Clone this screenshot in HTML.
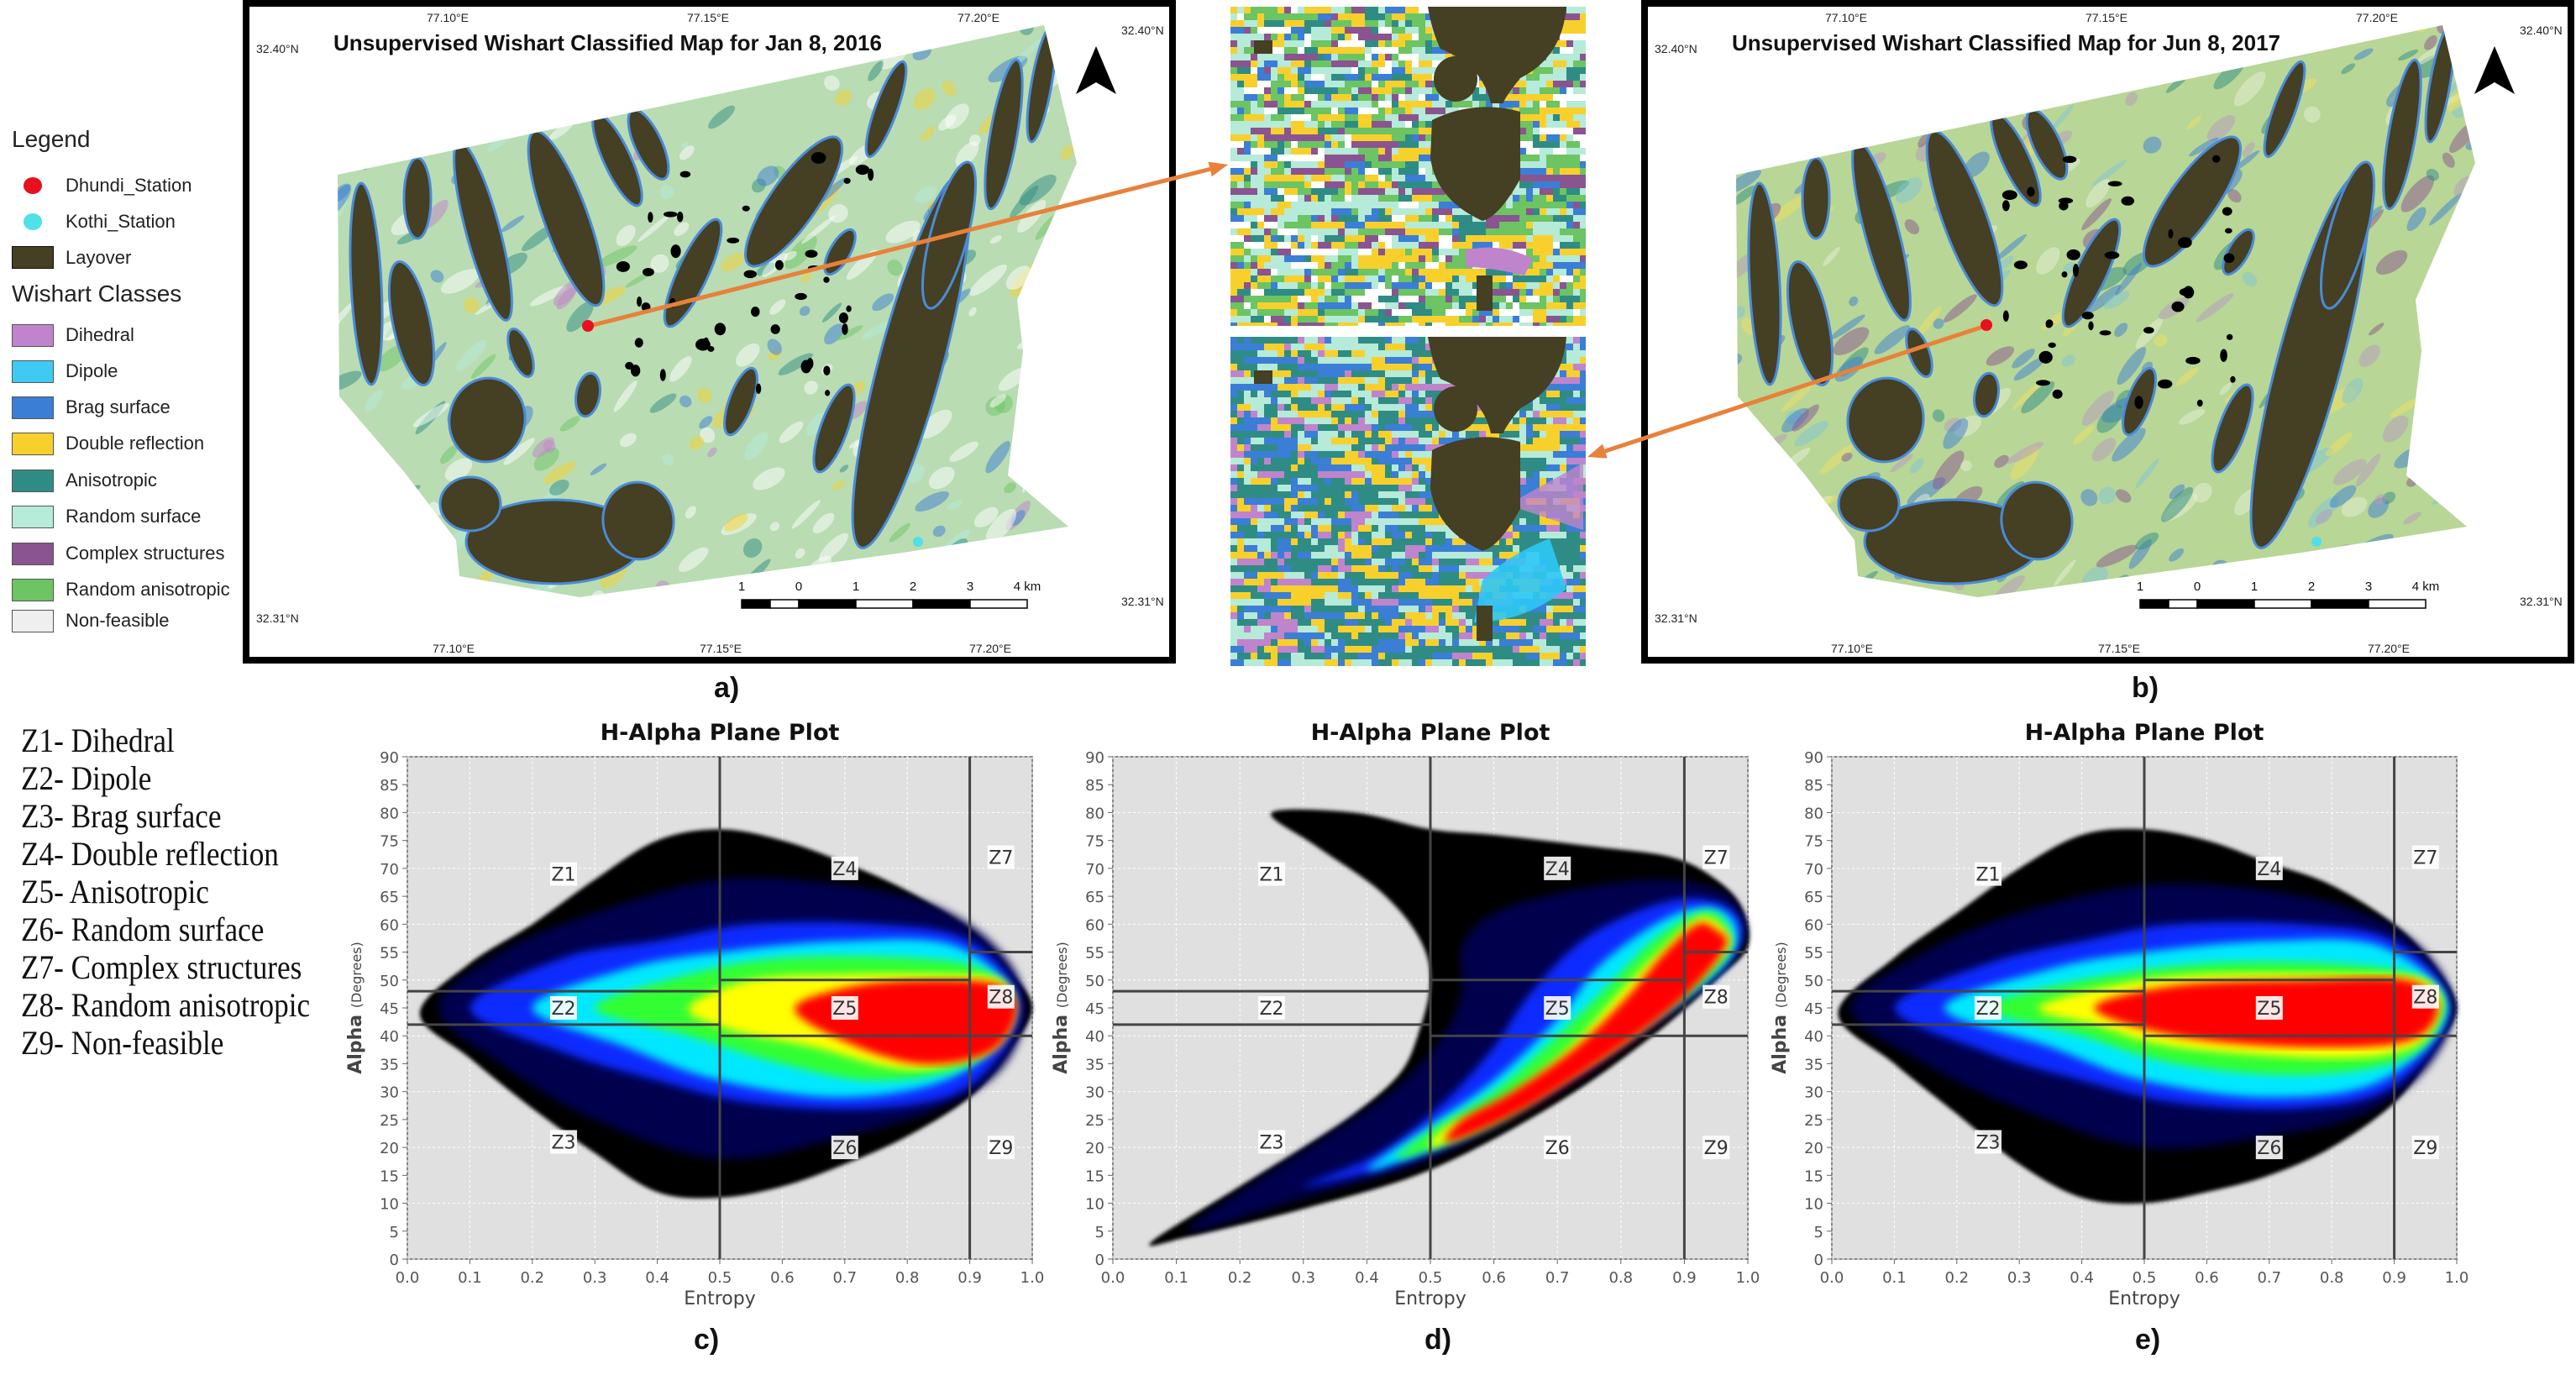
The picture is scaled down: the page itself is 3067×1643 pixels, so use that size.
<!DOCTYPE html>
<html><head><meta charset="utf-8">
<style>
html,body{margin:0;padding:0;background:#fff;}
body{width:3067px;height:1643px;overflow:hidden;position:relative;font-family:"Liberation Sans",sans-serif;}
.abs{position:absolute;}
.leg-item{position:absolute;left:78px;font-size:22px;color:#222;line-height:26px;}
.sw{position:absolute;left:14px;width:50px;height:27px;border:1px solid #555;box-sizing:border-box;}
.zone{position:absolute;left:25px;font-family:"Liberation Serif",serif;font-size:40px;color:#111;line-height:44px;white-space:nowrap;transform:scaleX(0.88);transform-origin:left top;}
.plabel{position:absolute;font-size:34px;font-weight:bold;color:#111;}
</style></head>
<body>
<svg id="fig" width="3067" height="1643" viewBox="0 0 3067 1643" xmlns="http://www.w3.org/2000/svg" style="position:absolute;left:0;top:0;"></svg>

<div>
  <div class="abs" style="left:14px;top:150px;font-size:28px;color:#222;">Legend</div>
  <div class="abs" style="left:28px;top:211px;width:22px;height:20px;border-radius:50%;background:#e8101e;"></div>
  <div class="leg-item" style="top:208px;">Dhundi_Station</div>
  <div class="abs" style="left:28px;top:254px;width:22px;height:20px;border-radius:50%;background:#4fe0e8;"></div>
  <div class="leg-item" style="top:251px;">Kothi_Station</div>
  <div class="sw" style="top:293px;background:#453f23;border-color:#111;"></div>
  <div class="leg-item" style="top:294px;">Layover</div>
  <div class="abs" style="left:14px;top:334px;font-size:28px;color:#222;">Wishart Classes</div>
  <div class="sw" style="top:386px;background:#c084cc;"></div>
  <div class="leg-item" style="top:386px;">Dihedral</div>
  <div class="sw" style="top:429px;background:#3fcaf3;"></div>
  <div class="leg-item" style="top:429px;">Dipole</div>
  <div class="sw" style="top:472px;background:#3b7ed6;"></div>
  <div class="leg-item" style="top:472px;">Brag surface</div>
  <div class="sw" style="top:515px;background:#f8d02c;"></div>
  <div class="leg-item" style="top:515px;">Double reflection</div>
  <div class="sw" style="top:559px;background:#2f8c84;"></div>
  <div class="leg-item" style="top:559px;">Anisotropic</div>
  <div class="sw" style="top:602px;background:#b6ead9;"></div>
  <div class="leg-item" style="top:602px;">Random surface</div>
  <div class="sw" style="top:646px;background:#8a5490;"></div>
  <div class="leg-item" style="top:646px;">Complex structures</div>
  <div class="sw" style="top:689px;background:#6cc463;"></div>
  <div class="leg-item" style="top:689px;">Random anisotropic</div>
  <div class="sw" style="top:726px;background:#efefef;"></div>
  <div class="leg-item" style="top:726px;">Non-feasible</div>
</div>

<div>
  <div class="zone" style="top:860px;">Z1- Dihedral</div>
  <div class="zone" style="top:905px;">Z2- Dipole</div>
  <div class="zone" style="top:950px;">Z3- Brag surface</div>
  <div class="zone" style="top:995px;">Z4- Double reflection</div>
  <div class="zone" style="top:1040px;">Z5- Anisotropic</div>
  <div class="zone" style="top:1085px;">Z6- Random surface</div>
  <div class="zone" style="top:1130px;">Z7- Complex structures</div>
  <div class="zone" style="top:1175px;">Z8- Random anisotropic</div>
  <div class="zone" style="top:1220px;">Z9- Non-feasible</div>
</div>

<div class="plabel" style="left:850px;top:800px;">a)</div>
<div class="plabel" style="left:2538px;top:800px;">b)</div>
<div class="plabel" style="left:826px;top:1576px;">c)</div>
<div class="plabel" style="left:1696px;top:1576px;">d)</div>
<div class="plabel" style="left:2542px;top:1576px;">e)</div>

<script>
// ---------- chart data (H-Alpha plane plots) ----------
const xTicks = [0.0,0.1,0.2,0.3,0.4,0.5,0.6,0.7,0.8,0.9,1.0];
const yTicks = [0,5,10,15,20,25,30,35,40,45,50,55,60,65,70,75,80,85,90];
const zoneNames = ["Z1","Z2","Z3","Z4","Z5","Z6","Z7","Z8","Z9"];
const zoneLabelH = [0.25,0.25,0.25,0.7,0.7,0.7,0.95,0.95,0.95];
const zoneLabelA = [69,45,21,70,45,20,72,47,20];
const vBounds = [0.5,0.9];
const hBoundSeg = [[0,0.5,42],[0,0.5,48],[0.5,0.9,40],[0.5,0.9,50],[0.9,1,40],[0.9,1,55]];
const layerColors = ["#000000","#00004e","#0a2cff","#00e8ff","#30ff30","#ffff00","#ff0000"];
// plot c (Jan 2016) density layers: [entropy, alpha] outlines
const cBlack=[[0.02,44],[0.1,53],[0.2,60],[0.3,68],[0.4,75],[0.5,77],[0.6,75],[0.7,71],[0.8,66],[0.9,59],[0.96,52],[1.0,45],[0.96,37],[0.9,29],[0.8,22],[0.7,17],[0.6,13],[0.5,11],[0.4,12],[0.3,19],[0.2,27],[0.1,36]];
const cNavy=[[0.05,45],[0.15,55],[0.3,62],[0.5,68],[0.7,67],[0.85,63],[0.95,55],[0.99,45],[0.95,34],[0.85,27],[0.7,22],[0.5,18],[0.3,25],[0.15,35]];
const cBlue=[[0.1,45],[0.25,54],[0.4,57],[0.55,60],[0.75,60],[0.9,57],[0.98,45],[0.9,31],[0.75,27],[0.55,28],[0.4,32],[0.25,37]];
const cCyan=[[0.2,45],[0.35,52],[0.5,55],[0.7,57],[0.88,56],[0.975,45],[0.88,33],[0.7,29],[0.5,32],[0.35,38]];
const cGreen=[[0.3,45],[0.45,51],[0.6,54],[0.8,54],[0.92,52],[0.97,45],[0.9,35],[0.75,32],[0.6,35],[0.45,40]];
const cYellow=[[0.45,45],[0.55,50],[0.7,51],[0.85,51],[0.95,50],[0.97,44],[0.93,37],[0.8,34],[0.65,38],[0.52,41]];
const cRed=[[0.62,45],[0.72,49],[0.85,50],[0.95,49],[0.975,44],[0.93,37],[0.82,35],[0.7,39]];
// plot d
const dBlack=[[0.06,3],[0.12,4],[0.3,9],[0.5,16],[0.7,28],[0.85,40],[0.95,50],[1.0,56],[0.99,63],[0.95,68],[0.88,72],[0.75,74],[0.6,76],[0.5,77],[0.38,80],[0.25,80],[0.32,74],[0.42,66],[0.48,58],[0.5,50],[0.48,40],[0.45,33],[0.38,26],[0.3,20],[0.2,13]];
const dNavy=[[0.12,5],[0.3,11],[0.5,18],[0.7,30],[0.85,42],[0.95,51],[0.995,58],[0.98,64],[0.93,67],[0.85,68],[0.72,66],[0.6,62],[0.55,56],[0.55,48],[0.52,40],[0.45,31],[0.35,23],[0.2,12]];
const dBlue=[[0.3,13],[0.5,19],[0.7,31],[0.87,44],[0.97,53],[0.99,60],[0.95,64],[0.87,64],[0.75,58],[0.66,48],[0.6,38],[0.52,28],[0.42,19]];
const dCyan=[[0.4,16],[0.5,20],[0.7,32],[0.88,45],[0.97,54],[0.98,60],[0.94,63],[0.87,61],[0.77,53],[0.7,43],[0.6,32],[0.5,24]];
const dGreen=[[0.45,18],[0.6,24],[0.75,35],[0.9,47],[0.97,55],[0.96,61],[0.92,62],[0.85,57],[0.78,49],[0.7,40],[0.6,30],[0.5,23]];
const dYellow=[[0.5,20],[0.6,25],[0.78,37],[0.9,48],[0.97,56],[0.955,60],[0.92,61],[0.86,55],[0.8,48],[0.72,38],[0.62,29],[0.53,24]];
const dRed=[[0.53,21],[0.65,27],[0.8,38],[0.9,47],[0.965,56],[0.95,59],[0.92,60],[0.87,55],[0.81,47],[0.73,38],[0.63,30],[0.55,25]];
// plot e (Jun 2017)
const eBlack=[[0.01,44],[0.1,54],[0.2,62],[0.3,70],[0.4,76],[0.5,77],[0.6,75],[0.7,71],[0.8,67],[0.9,60],[0.96,53],[1.0,45],[0.96,37],[0.9,28],[0.8,20],[0.7,15],[0.6,12],[0.5,10],[0.4,11],[0.3,17],[0.2,26],[0.1,35]];
const eNavy=[[0.03,45],[0.15,55],[0.3,62],[0.5,67],[0.7,66],[0.85,62],[0.95,55],[0.995,45],[0.95,34],[0.85,26],[0.7,22],[0.5,20],[0.3,27],[0.15,35]];
const eBlue=[[0.1,45],[0.25,53],[0.4,57],[0.55,60],[0.75,60],[0.9,57],[0.99,45],[0.9,31],[0.75,27],[0.55,28],[0.4,32],[0.25,37]];
const eCyan=[[0.18,45],[0.35,52],[0.5,55],[0.7,57],[0.88,56],[0.985,45],[0.88,32],[0.7,29],[0.5,32],[0.35,38]];
const eGreen=[[0.25,45],[0.4,50],[0.6,53],[0.8,53],[0.93,51],[0.98,45],[0.92,36],[0.75,33],[0.55,35],[0.4,40]];
const eYellow=[[0.33,45],[0.45,49],[0.6,51],[0.85,51],[0.95,50],[0.975,45],[0.93,38],[0.8,36],[0.55,38],[0.42,42]];
const eRed=[[0.42,45],[0.55,49],[0.75,50],[0.92,50],[0.97,45],[0.92,39],[0.75,38],[0.55,40]];
const cLayers=[cBlack,cNavy,cBlue,cCyan,cGreen,cYellow,cRed];
const dLayers=[dBlack,dNavy,dBlue,dCyan,dGreen,dYellow,dRed];
const eLayers=[eBlack,eNavy,eBlue,eCyan,eGreen,eYellow,eRed];
const plotIds=["c","d","e"];
const plotLayers=[cLayers,dLayers,eLayers];

const NS="http://www.w3.org/2000/svg";
const svg=document.getElementById('fig');
function mk(tag,attrs,parent){const e=document.createElementNS(NS,tag);for(const k in attrs)e.setAttribute(k,attrs[k]);(parent||svg).appendChild(e);return e;}

// seeded PRNG for map texture only
let seed=12345;function rnd(){seed=(seed*1103515245+12345)%2147483648;return seed/2147483648;}

// ---------- maps ----------
const mapPoly=[[402,208],[1243,30],[1282,194],[1211,357],[1218,418],[1200,566],[1272,627],[1075,658],[690,711],[547,686],[543,643],[483,564],[404,472]];
const bands=[[436,338,18,120,-3],[490,385,22,75,-12],[497,236,16,48,0],[575,275,20,110,-15],[674,260,26,110,-20],[735,190,16,60,-25],[772,172,16,45,-25],[825,325,18,70,25],[945,240,28,92,35],[1055,130,13,60,20],[1195,160,16,90,10],[1240,100,12,70,10],[1085,430,38,230,15],[1130,280,22,90,15],[660,645,105,50,0],[580,500,45,50,10],[882,478,14,42,20],[993,510,16,55,20],[560,600,36,32,0],[760,620,42,46,-10],[440,600,22,38,0],[1000,300,12,30,30],[620,420,12,30,-20],[700,470,14,26,10]];
function drawMap(ox,title,base,tint){
  const g=mk('g',{transform:`translate(${ox},0)`});
  
  
  const frame=mk('rect',{x:293,y:4,width:1103,height:782,fill:'#fff',stroke:'#000','stroke-width':8},g);
  
  
  const cid='clip'+ox;
  const cp=mk('clipPath',{id:cid},g);
  mk('polygon',{points:mapPoly.map(p=>p.join(',')).join(' ')},cp);
  const area=mk('g',{'clip-path':`url(#${cid})`},g);
  
  
  mk('rect',{x:380,y:20,width:920,height:720,fill:base},area);
  for(let i=0;i<320;i++){
    const x=390+rnd()*900,y=25+rnd()*700;
    const c=tint[Math.floor(rnd()*tint.length)];
    mk('ellipse',{cx:x,cy:y,rx:6+rnd()*22,ry:3+rnd()*8,fill:c,opacity:0.5,transform:`rotate(${-25+rnd()*-30} ${x} ${y})`},area);
  }
  bands.forEach(b=>{
    const e=mk('ellipse',{cx:b[0],cy:b[1],rx:b[2],ry:b[3],fill:'#453f23',stroke:'#4a8bd8','stroke-width':3,transform:`rotate(${b[4]} ${b[0]} ${b[1]})`},area);
    
    
  });
  for(let i=0;i<40;i++){const x=720+rnd()*320,y=180+rnd()*300;mk('ellipse',{cx:x,cy:y,rx:3+rnd()*6,ry:3+rnd()*5,fill:'#000'},area);}
  const t=mk('text',{x:397,y:60,'font-size':26,'font-weight':'bold','font-family':'Liberation Sans, sans-serif',fill:'#111',textLength:653},g);
  t.textContent=title;
  
  
  [['77.10°E',533,26],['77.15°E',843,26],['77.20°E',1165,26],['77.10°E',540,777],['77.15°E',858,777],['77.20°E',1179,777]].forEach(l=>{
    const tt=mk('text',{x:l[1],y:l[2],'font-size':14,'text-anchor':'middle','font-family':'Liberation Sans, sans-serif',fill:'#222'},g);tt.textContent=l[0];
    
    
  });
  [['32.40°N',305,63],['32.40°N',1335,41],['32.31°N',305,741],['32.31°N',1335,721]].forEach(l=>{
    const tt=mk('text',{x:l[1],y:l[2],'font-size':14,'font-family':'Liberation Sans, sans-serif',fill:'#222'},g);tt.textContent=l[0];
    
    
  });
  const na=mk('polygon',{points:'1305,55 1329,112 1305,98 1281,112',fill:'#000'},g);
  
  
  const sb=mk('g',{},g);
  
  
  const segs=[[883,917,1],[917,951,0],[951,1019,1],[1019,1087,0],[1087,1155,1],[1155,1223,0]];
  segs.forEach(s=>mk('rect',{x:s[0],y:714,width:s[1]-s[0],height:10,fill:s[2]?'#000':'#fff',stroke:'#000','stroke-width':1.5},sb));
  [['1',883],['0',951],['1',1019],['2',1087],['3',1155],['4 km',1223]].forEach(l=>{
    const tt=mk('text',{x:l[1],y:703,'font-size':15,'text-anchor':'middle','font-family':'Liberation Sans, sans-serif',fill:'#111'},sb);tt.textContent=l[0];
  });
  const kd=mk('circle',{cx:1093,cy:645,r:6,fill:'#4fe0e8'},g);
  
  
  return g;
}
drawMap(0,'Unsupervised Wishart Classified Map for Jan 8, 2016','#b9dcb2',['#ffffff','#ffffff','#ffffff','#6cc463','#3b7ed6','#f8d02c','#b6ead9','#c084cc','#2f8c84']);
drawMap(1665,'Unsupervised Wishart Classified Map for Jun 8, 2017','#b8d696',['#e8f0d8','#3b7ed6','#3b7ed6','#f0e060','#8a5490','#b59ac0','#2f8c84','#7ec4d8']);

// ---------- insets ----------
function drawInset(x0,y0,w,h,palette,name,cyanPatch){
  const g=mk('g',{});
  
  
  const cs=8;
  let prev=palette[0];
  for(let y=y0;y<y0+h;y+=cs){for(let x=x0;x<x0+w;x+=cs){
    const c=rnd()<0.45?prev:palette[Math.floor(rnd()*palette.length)];
    prev=c;
    mk('rect',{x:x,y:y,width:Math.min(cs,x0+w-x),height:Math.min(cs,y0+h-y),fill:c},g);
  }}
  if(cyanPatch){mk('path',{d:`M${x0+300} ${y0+290} Q${x0+330} ${y0+260} ${x0+380} ${y0+240} L${x0+400} ${y0+300} Q${x0+350} ${y0+340} ${x0+290} ${y0+340} Z`,fill:'#2ec8f5',opacity:0.9},g);
    mk('path',{d:`M${x0+330} ${y0+200} L${x0+420} ${y0+150} L${x0+420} ${y0+230} Z`,fill:'#c084cc',opacity:0.8},g);}
  else{mk('path',{d:`M${x0+280} ${y0+290} Q${x0+320} ${y0+280} ${x0+360} ${y0+300} L${x0+350} ${y0+320} Q${x0+310} ${y0+310} ${x0+280} ${y0+310} Z`,fill:'#c084cc'},g);}
  const br='#453f23';
  mk('path',{d:`M${x0+235} ${y0} L${x0+400} ${y0} Q${x0+395} ${y0+60} ${x0+345} ${y0+85} Q${x0+325} ${y0+110} ${x0+325} ${y0+115} L${x0+310} ${y0+115} Q${x0+300} ${y0+70} ${x0+250} ${y0+50} Q${x0+240} ${y0+30} ${x0+235} ${y0} Z`,fill:br},g);
  mk('ellipse',{cx:x0+268,cy:y0+86,rx:26,ry:27,fill:br},g);
  mk('path',{d:`M${x0+240} ${y0+135} Q${x0+290} ${y0+110} ${x0+345} ${y0+125} L${x0+345} ${y0+205} Q${x0+320} ${y0+250} ${x0+300} ${y0+255} Q${x0+245} ${y0+230} ${x0+238} ${y0+180} Z`,fill:br},g);
  mk('rect',{x:x0+293,y:y0+320,width:19,height:42,fill:br},g);
  mk('rect',{x:x0+28,y:y0+40,width:22,height:16,fill:br},g);
  return g;
}
drawInset(1465,8,423,380,['#b6ead9','#b6ead9','#6cc463','#6cc463','#f8d02c','#f8d02c','#3b7ed6','#2f8c84','#8a5490','#ffffff'],'inset-jan-2016',false);
drawInset(1465,401,423,392,['#2f8c84','#2f8c84','#2f8c84','#3b7ed6','#3b7ed6','#f8d02c','#f8d02c','#b6ead9','#c084cc','#b6ead9'],'inset-jun-2017',true);

// ---------- arrows ----------
function arrow(x1,y1,x2,y2,name){
  const ang=Math.atan2(y2-y1,x2-x1),L=22,W=9;
  const bx=x2-L*Math.cos(ang),by=y2-L*Math.sin(ang);
  const g=mk('g',{});
  
  
  mk('line',{x1:x1,y1:y1,x2:bx,y2:by,stroke:'#e8813a','stroke-width':5},g);
  mk('polygon',{points:`${x2},${y2} ${bx-W*Math.sin(ang)},${by+W*Math.cos(ang)} ${bx+W*Math.sin(ang)},${by-W*Math.cos(ang)}`,fill:'#e8813a'},g);
}
arrow(702,388,1462,196,'arrow-to-jan-inset');
arrow(2367,387,1890,544,'arrow-to-jun-inset');
const rd1=mk('circle',{cx:700,cy:388,r:7,fill:'#e8101e'});


const rd2=mk('circle',{cx:2365,cy:387,r:7,fill:'#e8101e'});



// ---------- H-Alpha plots ----------
const plotX0=[485,1325,2181], plotX1=[1229,2081,2925];
const plotTop=901, plotBot=1499;
function smoothPath(pts){
  const n=pts.length;let d=`M${pts[0][0]},${pts[0][1]}`;
  for(let i=0;i<n;i++){
    const p0=pts[(i-1+n)%n],p1=pts[i],p2=pts[(i+1)%n],p3=pts[(i+2)%n];
    const c1x=p1[0]+(p2[0]-p0[0])/6,c1y=p1[1]+(p2[1]-p0[1])/6;
    const c2x=p2[0]-(p3[0]-p1[0])/6,c2y=p2[1]-(p3[1]-p1[1])/6;
    d+=` C${c1x},${c1y} ${c2x},${c2y} ${p2[0]},${p2[1]}`;
  }
  return d+'Z';
}
const blur=mk('filter',{id:'soft',x:'-5%',y:'-5%',width:'110%',height:'110%'});
mk('feGaussianBlur',{stdDeviation:5},blur);
const blur2=mk('filter',{id:'soft2',x:'-5%',y:'-5%',width:'110%',height:'110%'});
mk('feGaussianBlur',{stdDeviation:2.5},blur2);
for(let p=0;p<3;p++){
  const X0=plotX0[p],X1=plotX1[p];
  const sx=h=>X0+(X1-X0)*h;
  const sy=a=>plotBot-(plotBot-plotTop)*a/90;
  const g=mk('g',{});
  
  
  const bg=mk('rect',{x:X0,y:plotTop,width:X1-X0,height:plotBot-plotTop,fill:'#e0e0e0',stroke:'#888','stroke-width':2},g);
  
  
  xTicks.forEach(t=>{mk('line',{x1:sx(t),y1:plotTop,x2:sx(t),y2:plotBot,stroke:'#fff','stroke-width':1,'stroke-dasharray':'3,3'},g);});
  yTicks.forEach((t,i)=>{if(i%2===0)mk('line',{x1:X0,y1:sy(t),x2:X1,y2:sy(t),stroke:'#fff','stroke-width':1,'stroke-dasharray':'3,3'},g);});
  plotLayers[p].forEach((layer,li)=>{
    const path=mk('path',{d:smoothPath(layer.map(q=>[sx(q[0]),sy(q[1])])),fill:layerColors[li]},g);
    path.setAttribute('filter',li>0?'url(#soft)':'url(#soft2)');
    
    
  });
  vBounds.forEach(v=>{
    const l=mk('line',{x1:sx(v),y1:plotTop,x2:sx(v),y2:plotBot,stroke:'#444','stroke-width':3},g);
    
    
  });
  hBoundSeg.forEach(s=>{
    const l=mk('line',{x1:sx(s[0]),y1:sy(s[2]),x2:sx(s[1]),y2:sy(s[2]),stroke:'#444','stroke-width':3},g);
    
    
  });
  zoneNames.forEach((z,i)=>{
    const cx=sx(zoneLabelH[i]),cy=sy(zoneLabelA[i]);
    mk('rect',{x:cx-16,y:cy-14,width:32,height:28,fill:'#fff',opacity:0.9},g);
    const t=mk('text',{x:cx,y:cy+8,'font-size':22,'text-anchor':'middle','font-family':'DejaVu Sans, sans-serif',fill:'#333'},g);
    t.textContent=z;
    
    
  });
  xTicks.forEach(t=>{
    mk('line',{x1:sx(t),y1:plotBot,x2:sx(t),y2:plotBot+6,stroke:'#666'},g);
    const tt=mk('text',{x:sx(t),y:plotBot+28,'font-size':18,'text-anchor':'middle','font-family':'DejaVu Sans, sans-serif',fill:'#555'},g);
    tt.textContent=t.toFixed(1);
    
    
  });
  yTicks.forEach(t=>{
    mk('line',{x1:X0-6,y1:sy(t),x2:X0,y2:sy(t),stroke:'#666'},g);
    const tt=mk('text',{x:X0-10,y:sy(t)+7,'font-size':18,'text-anchor':'end','font-family':'DejaVu Sans, sans-serif',fill:'#555'},g);
    tt.textContent=t;
    
    
  });
  const xt=mk('text',{x:(X0+X1)/2,y:1553,'font-size':22,'text-anchor':'middle','font-family':'DejaVu Sans, sans-serif',fill:'#444'},g);
  xt.textContent='Entropy';
  
  
  const yt=mk('text',{x:0,y:0,'font-size':22,'font-weight':'bold','text-anchor':'middle','font-family':'DejaVu Sans, sans-serif',fill:'#444',transform:`translate(${X0-55},${(plotTop+plotBot)/2}) rotate(-90)`},g);
  yt.innerHTML='Alpha <tspan font-size="16" font-weight="normal">(Degrees)</tspan>';
  
  
  const ti=mk('text',{x:(X0+X1)/2,y:881,'font-size':27,'font-weight':'bold','text-anchor':'middle','font-family':'DejaVu Sans, sans-serif',fill:'#111'},g);
  ti.textContent='H-Alpha Plane Plot';
  
  
}
</script>
</body></html>
